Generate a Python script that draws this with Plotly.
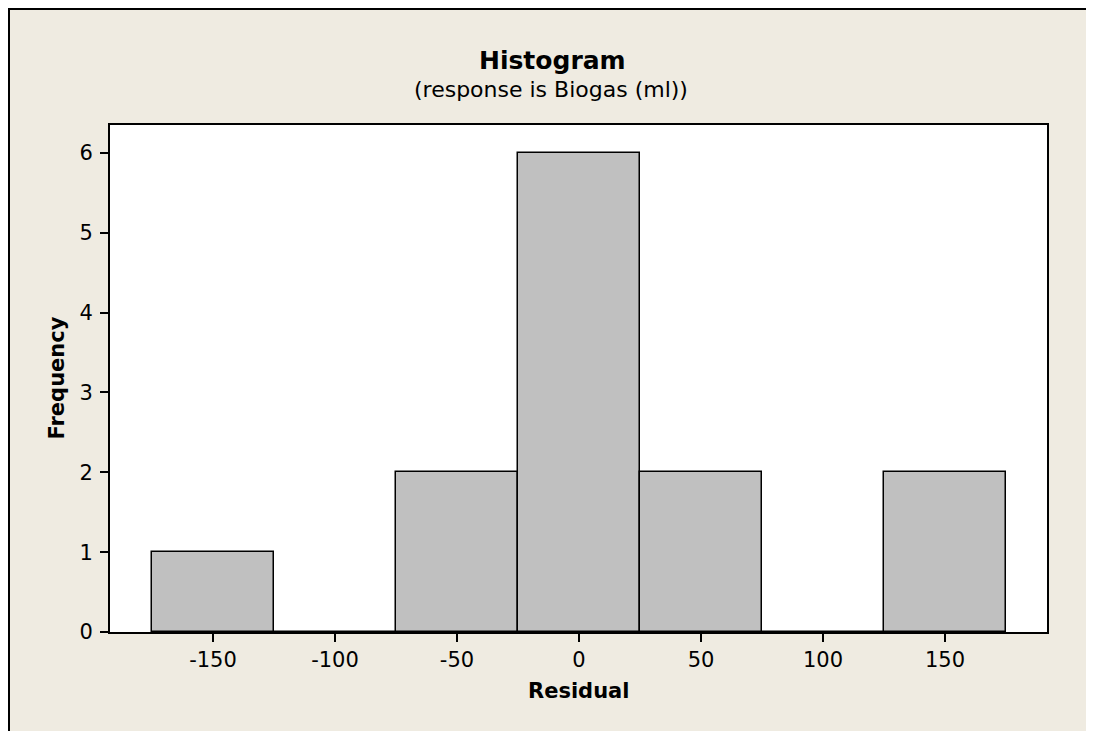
import plotly.graph_objects as go

# Data
bin_centers = [-150, -100, -50, 0, 50, 100, 150]
frequencies = [1, 0, 2, 6, 2, 0, 2]
bin_width = 50
x_ticks = [-150, -100, -50, 0, 50, 100, 150]
x_tick_labels = ["-150", "-100", "-50", "0", "50", "100", "150"]
y_ticks = [0, 1, 2, 3, 4, 5, 6]

title_text = "Histogram"
subtitle_text = "(response is Biogas (ml))"
x_title = "Residual"
y_title = "Frequency"

FONT = "DejaVu Sans"
BG = "#EFEBE1"

# page offset caused by the default body margin
OX, OY = 8, 8
PAGE_W, PAGE_H = 1094, 731
W, H = PAGE_W - OX, PAGE_H - OY

# plot area in page pixel coordinates
L, R, T, B = 110, 1047, 125, 632
pw, ph = R - L, B - T


def px(x):
    return (x - L) / pw


def py(y):
    return (B - y) / ph


fig = go.Figure()
fig.add_trace(go.Bar(
    x=bin_centers,
    y=frequencies,
    width=[bin_width] * len(bin_centers),
    marker=dict(color="#C0C0C0", line=dict(color="black", width=1.5)),
    showlegend=False,
    hoverinfo="x+y",
))

axis_common = dict(
    showline=True, linecolor="black", linewidth=2, mirror=True,
    ticks="outside", ticklen=8, tickwidth=1.5, tickcolor="black",
    showgrid=False, zeroline=False,
    tickfont=dict(family=FONT, size=21, color="black"),
)

fig.update_layout(
    width=W, height=H,
    margin=dict(l=L - OX, r=PAGE_W - R, t=T - OY, b=PAGE_H - B, pad=0),
    paper_bgcolor=BG,
    plot_bgcolor="white",
    bargap=0,
    xaxis=dict(range=[-192.2, 191.8], tickvals=x_ticks, ticktext=x_tick_labels, **axis_common),
    yaxis=dict(range=[0, 6.35], tickvals=y_ticks, ticklabelstandoff=3, **axis_common),
    annotations=[
        dict(text="<b>" + title_text + "</b>", x=px(552), y=py(60), xref="paper", yref="paper",
             showarrow=False, xanchor="center", yanchor="middle",
             font=dict(family=FONT, size=25, color="black")),
        dict(text=subtitle_text, x=px(551), y=py(89), xref="paper", yref="paper",
             showarrow=False, xanchor="center", yanchor="middle",
             font=dict(family=FONT, size=22, color="black")),
        dict(text="<b>" + x_title + "</b>", x=0.5, y=py(691), xref="paper", yref="paper",
             showarrow=False, xanchor="center", yanchor="middle",
             font=dict(family=FONT, size=21, color="black")),
        dict(text="<b>" + y_title + "</b>", x=px(56), y=0.5, xref="paper", yref="paper",
             showarrow=False, xanchor="center", yanchor="middle", textangle=-90,
             font=dict(family=FONT, size=21, color="black")),
    ],
    shapes=[
        dict(type="line", xref="paper", yref="paper",
             x0=px(OX + 1), y0=py(OY + 0), x1=px(OX + 1), y1=py(PAGE_H + 10),
             line=dict(color="black", width=2)),
        dict(type="line", xref="paper", yref="paper",
             x0=px(OX + 1), y0=py(OY + 1), x1=px(PAGE_W + 10), y1=py(OY + 1),
             line=dict(color="black", width=2)),
    ],
)

fig.write_html(
    "out.html",
    post_script="document.documentElement.style.overflow='hidden';document.body.style.overflow='hidden';",
)
